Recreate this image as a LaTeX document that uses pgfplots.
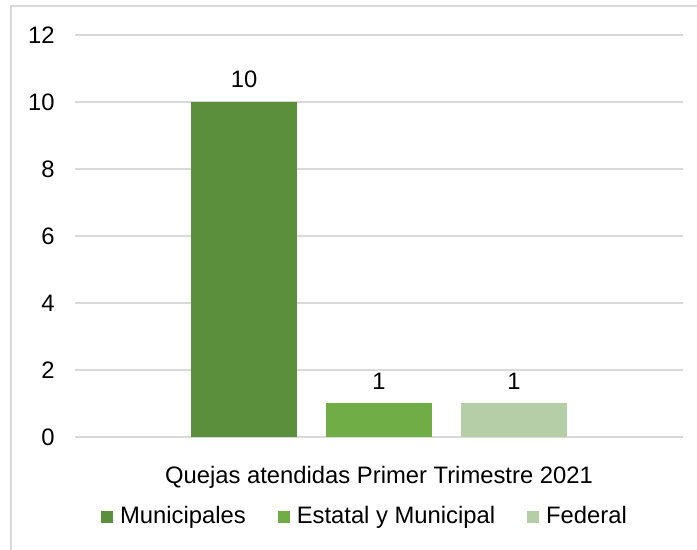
\documentclass[border=0pt]{standalone}
\usepackage{pgfplots}
\pgfplotsset{compat=1.18}
\usepackage{fontspec}
\setmainfont{Liberation Sans}
\definecolor{cA}{HTML}{5B8F3B}
\definecolor{cB}{HTML}{70AD47}
\definecolor{cC}{HTML}{B5CEA8}
\definecolor{gridc}{HTML}{D9D9D9}
\begin{document}
\fontsize{11.9}{14}\selectfont
\begin{tikzpicture}
\useasboundingbox (0pt,0pt) rectangle (348.5pt,275pt);
\draw[gridc, line width=1pt] (5.5pt,0pt) -- (5.5pt,272pt) -- (348.5pt,272pt);
\begin{axis}[
  at={(37.5pt,56.5pt)}, anchor=south west,
  scale only axis, width=304pt, height=201pt,
  xmin=-0.2519, xmax=4.2519, ymin=0, ymax=12,
  ytick={0,2,...,12},
  xtick={2}, xticklabels={Quejas atendidas Primer Trimestre 2021},
  xtick style={draw=none}, ytick style={draw=none},
  extra x ticks={-0.2519,4.2519}, extra x tick labels={},
  extra x tick style={tick align=outside, major tick length=3pt, tick style={draw=gridc, line width=0.75pt}, grid=none},
  ymajorgrids, grid style={gridc, line width=0.75pt},
  axis x line*=bottom, axis y line*=left,
  x axis line style={-, draw=gridc, line width=0.75pt},
  y axis line style={draw=none},
  /pgf/number format/assume math mode=true,
  tick label style={font=\fontsize{11.9}{14}\selectfont},
  yticklabel style={xshift=-6pt},
  xticklabel style={yshift=-6pt},
  ybar, bar width=0.785, bar shift=0pt,
  nodes near coords,
  every node near coord/.append style={font=\fontsize{11.9}{14}\selectfont, yshift=3pt, black},
  legend style={at={(axis description cs:0.4786,-0.1978)}, anchor=center, draw=none, legend columns=-1,
    font=\fontsize{11.9}{14}\selectfont, /tikz/every even column/.append style={column sep=14pt}},
  legend image code/.code={\fill[#1] (0pt,-3pt) rectangle (6pt,3pt); \path (7.5pt,0pt);},
]
\addplot[fill=cA, draw=none] coordinates {(1,10)};
\addplot[fill=cB, draw=none] coordinates {(2,1)};
\addplot[fill=cC, draw=none] coordinates {(3,1)};
\legend{Municipales, Estatal y Municipal, Federal}
\end{axis}
\end{tikzpicture}
\end{document}
